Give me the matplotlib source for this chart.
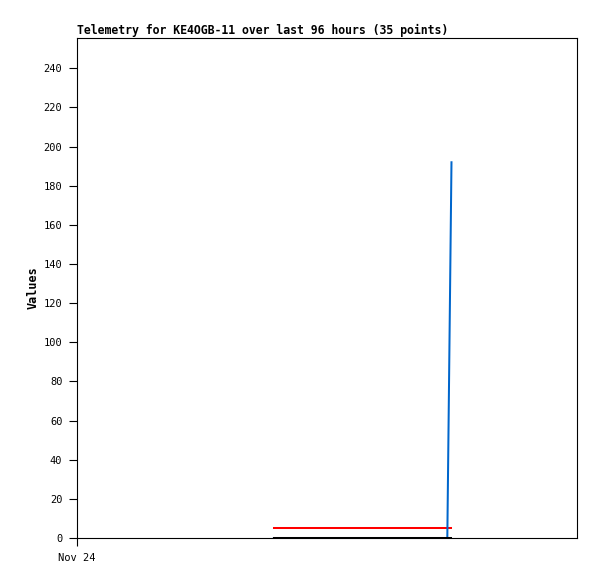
import numpy as np
import matplotlib
matplotlib.use("Agg")
import matplotlib.pyplot as plt

# hours since Nov 24 00:00
hours = [37.8, 38.9, 40.0, 41.1, 42.2, 43.3, 44.4, 45.5, 46.6, 47.7,
         48.8, 49.9, 51.0, 52.1, 53.2, 54.3, 55.4, 56.5, 57.6, 58.7,
         59.8, 60.9, 62.0, 63.1, 64.2, 65.3, 66.4, 67.5, 68.6, 69.7,
         71.1, 71.3, 71.5, 71.7, 71.9]
blue_vals = [0] * 30 + [0, 48, 96, 144, 192]
red_vals = [5] * 35
black_vals = [0] * 35

ytick_vals = list(range(0, 260, 20))
xtick_vals = [0]
xtick_labels = ["Nov 24"]

mono = "DejaVu Sans Mono"

fig = plt.figure(figsize=(5.97, 5.79), dpi=100)
ax = fig.add_axes([77 / 597, 41 / 579, 500 / 597, 500 / 579])

ax.plot(hours, red_vals, color="#ff0000", linewidth=1.45)
ax.plot(hours, blue_vals, color="#0066cc", linewidth=1.45)
ax.plot(hours, black_vals, color="#000000", linewidth=1.45)

ax.set_xlim(0, 96)
ax.set_ylim(0, 255.5)
ax.set_yticks(ytick_vals)
ax.set_xticks(xtick_vals)
ax.set_xticklabels(xtick_labels)

for lbl in ax.get_xticklabels() + ax.get_yticklabels():
    lbl.set_fontfamily(mono)
    lbl.set_fontsize(7.5)

ax.tick_params(axis="both", direction="out", length=5.5, width=0.8, pad=5)
for s in ax.spines.values():
    s.set_linewidth(0.8)

ax.set_ylabel("Values", fontfamily=mono, fontweight="bold", fontsize=8.5, labelpad=3)

fig.text(77 / 597, (579 - 34) / 579, "Telemetry for KE4OGB-11 over last 96 hours (35 points)",
         fontfamily=mono, fontweight="bold", fontsize=8.3, ha="left", va="baseline")

fig.savefig("out.png", dpi=100)
